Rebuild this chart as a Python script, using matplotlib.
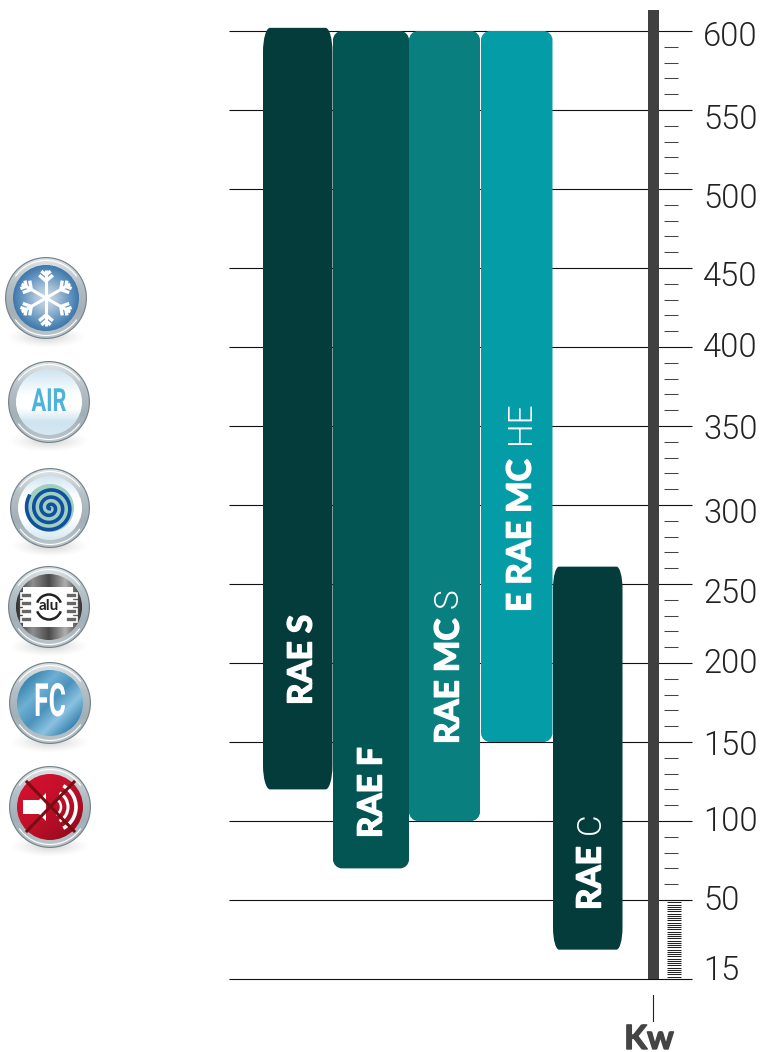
import numpy as np
import matplotlib
matplotlib.use("Agg")
import matplotlib.pyplot as plt
import matplotlib.patheffects as pe
from matplotlib.colors import LinearSegmentedColormap
from matplotlib.patches import Circle, PathPatch, Polygon, Rectangle, Arc
from matplotlib.path import Path
from matplotlib.transforms import Affine2D, IdentityTransform

# data
tick_values = [15, 50, 100, 150, 200, 250, 300, 350, 400, 450, 500, 550, 600]
series_names = ["RAE S", "RAE F", "RAE MC S", "E RAE MC HE", "RAE C"]
series_low = [120, 70, 100, 150, 28]
series_high = [602, 600, 600, 600, 261]
minor_ticks = [v for v in range(60, 600, 10) if v % 50]
fine_ticks = list(range(16, 50))

# layout (pixels)
W, H = 760, 1052
bar_x = [(263, 332.5), (333, 409), (409, 480), (481, 552.5), (553, 622.5)]
bar_colors = ["#033c3a", "#025553", "#0a7f7f", "#049ca6", "#033c3a"]
bar_radii = [(7, 24), (9, 9), (9, 9), (9, 9), (6, 22)]
label_bold = ["RAE S", "RAE F", "RAE MC", "E RAE MC", "RAE"]
label_light = ["", "", "S", "HE", "C"]
label_x = [302, 372, 449, 521, 591]
label_bottom = [705, 838, 744, 612, 910]
light_bottom = [0, 0, 608, 444, 834]
tick_label_dy = [-8, 1, 1, 4, 1, 10, 9, 4, 1, 9, 10, 10, 6]

knots_kw = tick_values + [650]
knots_pos = list(range(len(knots_kw)))


def fwd(v):
    return np.interp(v, knots_kw, knots_pos)


def inv(p):
    return np.interp(p, knots_pos, knots_kw)


class SqueezeX(pe.AbstractPathEffect):
    # condensed look for the icon lettering, no narrow font around
    def __init__(self, cx_px, sx):
        super().__init__()
        self.cx_px = cx_px
        self.sx = sx

    def draw_path(self, renderer, gc, tpath, affine, rgbFace=None):
        squeeze = Affine2D().translate(-self.cx_px, 0).scale(self.sx, 1).translate(self.cx_px, 0)
        renderer.draw_path(gc, tpath, affine + squeeze, rgbFace)


plt.rcParams["font.family"] = ["Lato", "DejaVu Sans"]
LIGHT = ["Roboto", "DejaVu Sans"]

fig = plt.figure(figsize=(W / 100, H / 100), dpi=100)
ax = fig.add_axes([0, (H - 979) / H, 1, 948 / H])
ax.set_xlim(0, W)
ax.set_yscale("function", functions=(fwd, inv))
ax.set_ylim(15, 600)
ax.axis("off")

ov = fig.add_axes([0, 0, 1, 1], zorder=5)
ov.set_xlim(0, W)
ov.set_ylim(H, 0)
ov.axis("off")
ov.patch.set_alpha(0)

# scale
ax.hlines(tick_values, 229, 692, color="#111111", lw=0.8, zorder=1, clip_on=False)
ax.hlines(minor_ticks, 664, 678, color="#444444", lw=0.75, zorder=1)
ax.hlines(fine_ticks, 667, 681, color="#222222", lw=0.75, zorder=1)
ov.add_patch(Rectangle((648, 10), 11, 969, color="#404040", lw=0, zorder=2))
for v, dy in zip(tick_values, tick_label_dy):
    y = ax.transData.transform((0, v))[1]
    ov.text(703, H - y + dy, str(v), fontsize=23.5, fontweight=300, family=LIGHT,
            color="#222222", va="center", ha="left")
ov.plot([653, 653], [995, 1021], color="#222222", lw=0.8)
ov.text(649, 1049, "Kw", fontsize=24, fontweight="bold", color="#444444", ha="center", va="baseline",
        path_effects=[pe.withStroke(linewidth=1.0, foreground="#444444")])


def rounded_bar(x0, x1, y0, y1, rx, ry):
    k = 0.55
    verts = [(x0 + rx, y0), (x1 - rx, y0),
             (x1 - rx * (1 - k), y0), (x1, y0 + ry * (1 - k)), (x1, y0 + ry),
             (x1, y1 - ry),
             (x1, y1 - ry * (1 - k)), (x1 - rx * (1 - k), y1), (x1 - rx, y1),
             (x0 + rx, y1),
             (x0 + rx * (1 - k), y1), (x0, y1 - ry * (1 - k)), (x0, y1 - ry),
             (x0, y0 + ry),
             (x0, y0 + ry * (1 - k)), (x0 + rx * (1 - k), y0), (x0 + rx, y0)]
    codes = [Path.MOVETO, Path.LINETO,
             Path.CURVE4, Path.CURVE4, Path.CURVE4,
             Path.LINETO,
             Path.CURVE4, Path.CURVE4, Path.CURVE4,
             Path.LINETO,
             Path.CURVE4, Path.CURVE4, Path.CURVE4,
             Path.LINETO,
             Path.CURVE4, Path.CURVE4, Path.CURVE4]
    return Path(verts, codes)


# bars
for i in range(len(series_names)):
    x0, x1 = bar_x[i]
    y0 = ax.transData.transform((0, series_low[i]))[1]
    y1 = ax.transData.transform((0, series_high[i]))[1]
    rx, ry = bar_radii[i]
    ax.add_patch(PathPatch(rounded_bar(x0, x1, y0, y1, rx, ry), facecolor=bar_colors[i],
                           edgecolor="none", transform=IdentityTransform(),
                           clip_on=False, zorder=3))

# labels on the bars
for i in range(len(series_names)):
    ov.text(label_x[i], label_bottom[i], label_bold[i], rotation=90, fontsize=24,
            fontweight="bold", color="white", ha="center", va="bottom",
            path_effects=[pe.withStroke(linewidth=1.1, foreground="white")])
    if label_light[i]:
        ov.text(label_x[i], light_bottom[i], label_light[i], rotation=90, fontsize=24, family=LIGHT,
                fontweight=300, color="white", ha="center", va="bottom")


# icons
def gradient(cx, cy, r, colors, angle=90, radial=False, z=6):
    yy, xx = np.mgrid[-1:1:160j, -1:1:160j]
    if radial:
        t = np.clip(np.hypot(xx, yy), 0, 1)
    else:
        a = np.deg2rad(angle)
        t = np.clip((xx * np.cos(a) + yy * np.sin(a)) / 2 + 0.5, 0, 1)
    cmap = LinearSegmentedColormap.from_list("g", colors)
    im = ov.imshow(t, cmap=cmap, vmin=0, vmax=1, extent=(cx - r, cx + r, cy + r, cy - r),
                   origin="upper", aspect="auto", zorder=z, interpolation="bilinear")
    im.set_clip_path(Circle((cx, cy), r, transform=ov.transData))


def button(cx, cy, r, inner, colors, angle=90, radial=False):
    # soft shadow
    yy, xx = np.mgrid[-1:1:80j, -1:1:80j]
    rgba = np.zeros((80, 80, 4))
    rgba[..., :3] = 0.6
    rgba[..., 3] = np.clip(1 - np.hypot(xx, yy), 0, 1) ** 1.3 * 0.45
    ov.imshow(rgba, extent=(cx - r, cx + r, cy + r + 9, cy + r - 13), aspect="auto",
              zorder=5.5, interpolation="bilinear")
    ov.add_patch(Circle((cx, cy), r, fc="#76848b", ec="none", zorder=6))
    gradient(cx, cy, r - 1.2, ["#dfe4e7", "#b4c0c6", "#a3afb6", "#bcc7cc"], 90, z=6.1)
    ov.add_patch(Arc((cx, cy), 2 * r - 7, 2 * r - 7, theta1=35, theta2=145, color="white", lw=0.8, zorder=6.2))
    ov.add_patch(Arc((cx, cy), 2 * r - 7, 2 * r - 7, theta1=215, theta2=325, color="white", lw=0.8, zorder=6.2))
    gradient(cx, cy, inner, colors, angle, radial, z=6.3)


# snowflake
cx, cy = 46, 298
button(cx, cy, 41, 33, ["#cfdde9", "#a9c2d9", "#6c9cc5", "#3f78ac"], radial=True)
for a in np.deg2rad([30, 90, 150, 210, 270, 330]):
    ex, ey = np.cos(a), np.sin(a)
    ov.plot([cx, cx + 28 * ex], [cy, cy + 28 * ey], color="white", lw=2.2, zorder=7, solid_capstyle="butt")
    for d, blen in ((17, 9), (23, 6)):
        for s in (-1, 1):
            b = a + s * np.deg2rad(50)
            ov.plot([cx + d * ex, cx + d * ex + blen * np.cos(b)],
                    [cy + d * ey, cy + d * ey + blen * np.sin(b)],
                    color="white", lw=2.4, zorder=7, solid_capstyle="butt")

# AIR
cx, cy = 49, 402
button(cx, cy, 41, 33, ["#cfe3f1", "#e6f2f9", "#ffffff", "#ffffff", "#cfe4ef", "#d6e8f2"], 90)
ov.text(cx, cy, "AIR", fontsize=23, fontweight="bold", color="#4db3de", ha="center", va="center",
        family=["Roboto", "DejaVu Sans"], zorder=7, path_effects=[SqueezeX(cx, 0.68)])

# spiral
cx, cy = 50, 508
button(cx, cy, 40, 32, ["#d4e6f2", "#ffffff", "#ffffff", "#d6e8f2"], 90)
ov.add_patch(Circle((cx, cy), 24, fc="#9fd0bf", ec="none", zorder=7))
th = np.linspace(0, 3.2 * 2 * np.pi, 300)
rad = 1 + th / th.max() * 23
ov.plot(cx + rad * np.cos(th + 2.4), cy + rad * np.sin(th + 2.4), color="#10509f", lw=2.6, zorder=7.1)

# alu
cx, cy = 49, 607
button(cx, cy, 41, 33, ["#2f2f2f", "#8f8f8f", "#4a4a4a", "#b0b0b0", "#333333"], 0)
ov.add_patch(Rectangle((cx - 26, cy - 20), 50, 40, fc="white", ec="none", zorder=7))
for k in range(4):
    yb = cy - 12 + k * 8
    ov.add_patch(Rectangle((cx - 28, yb - 2.5), 11, 5, fc="#666666", ec="white", lw=1.2, zorder=7.1))
    ov.add_patch(Rectangle((cx + 17, yb - 2.5), 11, 5, fc="#666666", ec="white", lw=1.2, zorder=7.1))
ov.add_patch(Circle((cx, cy), 14, fc="white", ec="none", zorder=7.2))
ov.add_patch(Arc((cx, cy), 25, 25, theta1=200, theta2=340, color="#222222", lw=1.8, zorder=7.3))
ov.add_patch(Arc((cx, cy), 25, 25, theta1=20, theta2=160, color="#222222", lw=1.8, zorder=7.3))
ov.text(cx, cy - 1, "alu", fontsize=11, fontweight="bold", color="#222222", ha="center", va="center", zorder=7.4)

# FC
cx, cy = 50, 703
button(cx, cy, 41, 33, ["#3b86b0", "#6fb0d4", "#4a93bd", "#8cc2e0", "#3a86b2"], 45)
ov.text(cx, cy, "FC", fontsize=33, fontweight="bold", color="white", ha="center", va="center",
        family=["Roboto", "DejaVu Sans"], zorder=7, path_effects=[SqueezeX(cx, 0.58)])

# silenced
cx, cy = 50, 807
button(cx, cy, 41, 33, ["#d3112f", "#c01029", "#9b0b20"], 45)
ov.add_patch(Polygon([(cx - 27, cy - 7), (cx - 11, cy - 7), (cx - 4, cy - 14), (cx - 4, cy + 14),
                      (cx - 11, cy + 7), (cx - 27, cy + 7)], fc="white", ec="none", zorder=7))
for rr, lw in ((9, 1.8), (16, 2.2), (24, 2.6)):
    ov.add_patch(Arc((cx + 2, cy), 2 * rr, 2 * rr, theta1=-62, theta2=62, color="white", lw=lw, zorder=7))
ov.plot([cx - 23, cx + 24], [cy - 25, cy + 24], color="#7a0d14", lw=2.2, zorder=7.2)
ov.plot([cx + 24, cx - 23], [cy - 25, cy + 24], color="#7a0d14", lw=2.2, zorder=7.2)

ov.set_xlim(0, W)
ov.set_ylim(H, 0)

fig.savefig("out.png", dpi=100)
